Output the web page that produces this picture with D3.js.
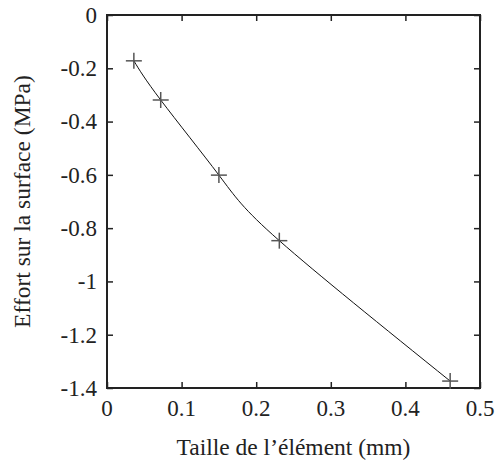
<!DOCTYPE html>
<html>
<head>
<meta charset="utf-8">
<script src="https://cdn.jsdelivr.net/npm/d3@7"></script>
<style>
  html, body { margin: 0; padding: 0; background: #fff; }
</style>
</head>
<body>
<svg id="chart" width="500" height="464"></svg>
<script>
const xValues = [0.036, 0.072, 0.150, 0.231, 0.460];
const yValues = [-0.172, -0.319, -0.601, -0.847, -1.374];
const xTicks = [0, 0.1, 0.2, 0.3, 0.4, 0.5];
const yTicks = [0, -0.2, -0.4, -0.6, -0.8, -1, -1.2, -1.4];
const xLabel = "Taille de l’élément (mm)";
const yLabel = "Effort sur la surface (MPa)";

const svg = d3.select("#chart");
const L = 107, R = 480, T = 15, B = 388;
const x = d3.scaleLinear().domain([0, 0.5]).range([L, R]);
const y = d3.scaleLinear().domain([-1.4, 0]).range([B, T]);
const fmt = v => (v === 0 ? "0" : String(+v.toFixed(1)));
const tickLen = 6;
const FONT = "Liberation Serif";
const INK = "#222";

// tick marks on all four sides (inward) via d3 axes
const axes = [
  [d3.axisBottom(x).tickValues(xTicks), `translate(0,${B})`],
  [d3.axisTop(x).tickValues(xTicks), `translate(0,${T})`],
  [d3.axisLeft(y).tickValues(yTicks), `translate(${L},0)`],
  [d3.axisRight(y).tickValues(yTicks), `translate(${R},0)`]
];
axes.forEach(([ax, tr]) => {
  const g = svg.append("g").attr("transform", tr)
    .call(ax.tickFormat("").tickSizeInner(-tickLen).tickSizeOuter(0));
  g.select(".domain").remove();
  g.selectAll(".tick line").attr("stroke", INK).attr("stroke-width", 1.5);
  g.selectAll(".tick text").remove();
});

// tick labels
svg.append("g").selectAll("text").data(xTicks).join("text")
  .attr("x", d => x(d)).attr("y", 416)
  .attr("text-anchor", "middle")
  .attr("font-family", FONT).attr("font-size", 23).attr("fill", INK)
  .text(fmt);
svg.append("g").selectAll("text").data(yTicks).join("text")
  .attr("x", L - 10).attr("y", d => y(d)).attr("dy", "0.34em")
  .attr("text-anchor", "end")
  .attr("font-family", FONT).attr("font-size", 23).attr("fill", INK)
  .text(fmt);

// frame
svg.append("rect").attr("x", L).attr("y", T).attr("width", R - L).attr("height", B - T)
  .attr("fill", "none").attr("stroke", INK).attr("stroke-width", 2);

// curve
const pts = xValues.map((v, i) => [v, yValues[i]]);
svg.append("path").datum(pts)
  .attr("fill", "none").attr("stroke", "#111").attr("stroke-width", 1)
  .attr("d", d3.line().x(d => x(d[0])).y(d => y(d[1])).curve(d3.curveNatural));

// markers (+)
const m = 8;
const mk = svg.append("g").attr("stroke", "#555").attr("stroke-width", 1.5);
pts.forEach(d => {
  const cx = x(d[0]), cy = y(d[1]);
  mk.append("line").attr("x1", cx - m).attr("x2", cx + m).attr("y1", cy).attr("y2", cy);
  mk.append("line").attr("x1", cx).attr("x2", cx).attr("y1", cy - m).attr("y2", cy + m);
});

// axis titles
svg.append("text").attr("x", (L + R) / 2).attr("y", 455).attr("text-anchor", "middle")
  .attr("font-family", FONT).attr("font-size", 23.5).attr("fill", INK).text(xLabel);
svg.append("text").attr("transform", `translate(30,${(T + B) / 2}) rotate(-90)`)
  .attr("text-anchor", "middle")
  .attr("font-family", FONT).attr("font-size", 23.5).attr("fill", INK).text(yLabel);
</script>
</body>
</html>
